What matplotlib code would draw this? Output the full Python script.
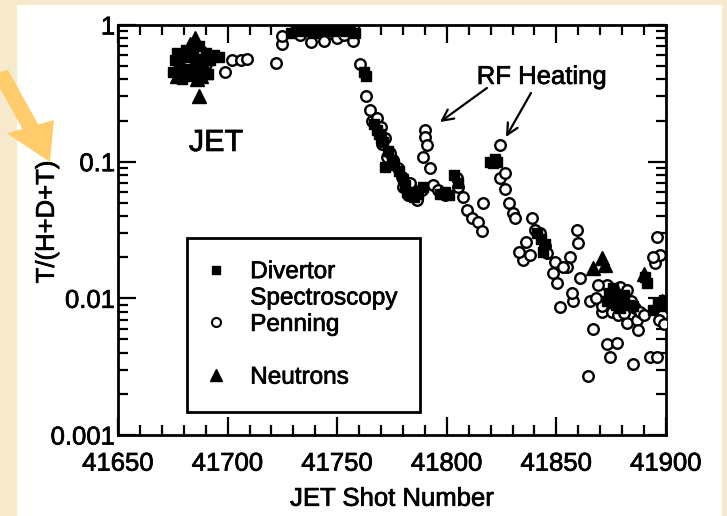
import matplotlib
matplotlib.use("Agg")
import matplotlib.pyplot as plt
import matplotlib.patheffects as pe
from matplotlib.ticker import MultipleLocator, LogLocator, FixedLocator, NullFormatter
from matplotlib.lines import Line2D
from matplotlib.patches import Rectangle, FancyArrow

plt.rcParams['font.family'] = ['Liberation Sans', 'DejaVu Sans']

# ---------------- data ----------------
div_shot = [41675, 41676, 41677, 41678, 41679, 41680, 41681, 41682, 41683, 41684,
            41685, 41686, 41687, 41688, 41689, 41690, 41691, 41692, 41694, 41696,
            41729, 41731, 41734, 41736, 41739, 41742, 41745, 41748, 41751, 41754,
            41756, 41758,
            41762, 41763, 41767, 41768, 41769, 41770, 41771, 41772, 41773, 41775,
            41776, 41778, 41780, 41781, 41782, 41783, 41785, 41786, 41787, 41789,
            41797, 41799, 41801, 41803.5, 41805,
            41819.7, 41821, 41822, 41823,
            41841, 41843, 41845, 41844,
            41874, 41876, 41878, 41880, 41877, 41879, 41881, 41883, 41873, 41885,
            41890.4, 41891.3, 41894, 41896.4, 41898, 41899]
div_val = [0.45, 0.55, 0.62, 0.50, 0.40, 0.58, 0.66, 0.48, 0.42, 0.60,
           0.52, 0.45, 0.70, 0.56, 0.50, 0.62, 0.44, 0.55, 0.60, 0.58,
           0.88, 0.92, 0.90, 0.93, 0.88, 0.92, 0.93, 0.90, 0.92, 0.90,
           0.93, 0.88,
           0.45, 0.42, 0.19, 0.17, 0.16, 0.15, 0.14, 0.092, 0.12, 0.10,
           0.095, 0.085, 0.075, 0.068, 0.060, 0.057, 0.055, 0.060, 0.058, 0.065,
           0.058, 0.060, 0.057, 0.080, 0.070,
           0.100, 0.098, 0.105, 0.100,
           0.030, 0.027, 0.025, 0.022,
           0.011, 0.012, 0.0105, 0.0095, 0.009, 0.0085, 0.0105, 0.009, 0.0095, 0.0088,
           0.0144, 0.013, 0.0082, 0.0093, 0.0088, 0.0098]

pen_shot = [41684, 41688, 41690, 41699, 41702, 41706, 41709, 41722, 41725, 41725,
            41733, 41738, 41741, 41744, 41747, 41750, 41753, 41757,
            41760.5, 41763, 41765, 41766, 41768, 41770, 41772, 41770.5, 41772.7, 41775.5,
            41777.7, 41779.6, 41780, 41782.3, 41784.6, 41788.7, 41786.4, 41774, 41783,
            41790, 41790, 41791, 41789, 41792.5, 41793.5, 41796, 41799, 41804.7, 41805,
            41807.4, 41809.2, 41811.5, 41814.2, 41816, 41816.5,
            41824.3, 41824.3, 41826.6, 41826.6, 41828.5, 41830, 41831,
            41838.9, 41840.2, 41842.5, 41844.8, 41845.7, 41834.8, 41838, 41849.4, 41856.2,
            41859.4, 41859.9, 41854.8, 41853, 41848.4, 41850.3, 41860.8, 41851.6, 41857.6,
            41857.1, 41865.3, 41870.8, 41875.4, 41882.2, 41886.8, 41887.2, 41866.7, 41873.1,
            41877.6, 41874.5, 41884.9, 41864.4, 41892.7, 41895.9,
            41873, 41876, 41879, 41882, 41884, 41886, 41878, 41881, 41888, 41890,
            41871, 41868, 41869,
            41895, 41897.3, 41896, 41894, 41898.2, 41897, 41899, 41836, 41833]
pen_val = [0.60, 0.65, 0.52, 0.45, 0.55, 0.55, 0.56, 0.53, 0.72, 0.83,
           0.85, 0.75, 0.90, 0.77, 0.88, 0.80, 0.85, 0.77,
           0.52, 0.30, 0.24, 0.20, 0.21, 0.18, 0.15, 0.135, 0.108, 0.103,
           0.090, 0.077, 0.065, 0.057, 0.062, 0.062, 0.0525, 0.115, 0.070,
           0.171, 0.152, 0.132, 0.108, 0.090, 0.068, 0.062, 0.057, 0.076, 0.065,
           0.055, 0.044, 0.039, 0.036, 0.031, 0.050,
           0.132, 0.076, 0.082, 0.063, 0.050, 0.042, 0.039,
           0.039, 0.0316, 0.030, 0.024, 0.0215, 0.019, 0.0208, 0.0185, 0.020,
           0.0316, 0.0254, 0.017, 0.017, 0.0154, 0.013, 0.0141, 0.0087, 0.0095,
           0.011, 0.0095, 0.008, 0.008, 0.0066, 0.007, 0.0059, 0.006, 0.0046,
           0.0047, 0.0037, 0.0033, 0.0027, 0.0037, 0.0037,
           0.0125, 0.0105, 0.0122, 0.0115, 0.0095, 0.0085, 0.0075, 0.0078, 0.008, 0.0075,
           0.0088, 0.010, 0.0125,
           0.018, 0.0208, 0.028, 0.020, 0.0076, 0.007, 0.0065, 0.026, 0.022]

neu_shot = [41677, 41680, 41683, 41685, 41686, 41688, 41690, 41687,
            41870.8, 41866.7, 41872.2, 41890, 41898, 41878]
neu_val = [0.42, 0.47, 0.72, 0.80, 0.40, 0.42, 0.45, 0.30,
           0.0198, 0.0167, 0.0176, 0.015, 0.0095, 0.011]

x_ticks = [41650, 41700, 41750, 41800, 41850, 41900]
y_ticks = [0.001, 0.01, 0.1, 1]
y_ticklabels = ['0.001', '0.01', '0.1', '1']

# ---------------- figure ----------------
W, H = 727, 516
fig = plt.figure(figsize=(W / 100, H / 100), dpi=100, facecolor='#f7e9cc')
# white page of the scanned figure
fig.patches.append(Rectangle((17 / W, 0), (722 - 17) / W, (H - 5) / H,
                             transform=fig.transFigure, facecolor='white',
                             edgecolor='none', zorder=-10))

ax = fig.add_axes([118 / W, 1 - 435 / H, (666 - 118) / W, (435 - 25) / H])
ax.set_zorder(2)
ax.set_facecolor('white')

ax.plot(pen_shot, pen_val, linestyle='none', marker='o', markersize=7.6,
        markerfacecolor='white', markeredgecolor='black', markeredgewidth=1.7, zorder=3)
ax.plot(div_shot, div_val, linestyle='none', marker='s', markersize=7,
        markerfacecolor='black', markeredgecolor='black', zorder=4)
ax.plot(neu_shot, neu_val, linestyle='none', marker='^', markersize=9.5,
        markerfacecolor='black', markeredgecolor='black', zorder=4)

ax.set_yscale('log')
ax.set_xlim(41650, 41900)
ax.set_ylim(0.001, 1)

ax.xaxis.set_major_locator(FixedLocator(x_ticks))
ax.xaxis.set_minor_locator(MultipleLocator(10))
ax.set_xticklabels([str(t) for t in x_ticks])
ax.yaxis.set_major_locator(FixedLocator(y_ticks))
ax.set_yticklabels(y_ticklabels)
ax.yaxis.set_minor_locator(LogLocator(base=10, subs=range(2, 10)))
ax.yaxis.set_minor_formatter(NullFormatter())

ax.tick_params(which='both', direction='in', top=True, right=True, color='black')
ax.tick_params(which='major', length=13, width=1.6)
ax.tick_params(which='minor', length=7, width=1.6)
ax.tick_params(axis='x', which='major', labelsize=18.5, pad=12)
ax.tick_params(axis='y', which='major', labelsize=18.5, pad=2)
for s in ax.spines.values():
    s.set_linewidth(2)

ax.set_xlabel('JET Shot Number', fontsize=18.5, labelpad=8)
ax.set_ylabel('T/(H+D+T)', fontsize=18.5)
ax.yaxis.set_label_coords(-0.108, 0.52)

ax.text(41694.7, 0.137, 'JET', fontsize=22, ha='center', va='center')
ax.text(41843.4, 0.417, 'RF Heating', fontsize=18.5, ha='center', va='center')
ax.annotate('', xy=(41796.9, 0.195), xytext=(41818.3, 0.346),
            arrowprops=dict(arrowstyle='->', lw=1.6, color='black',
                            mutation_scale=20, shrinkA=0, shrinkB=0))
ax.annotate('', xy=(41827.0, 0.1516), xytext=(41838.4, 0.318),
            arrowprops=dict(arrowstyle='->', lw=1.6, color='black',
                            mutation_scale=20, shrinkA=0, shrinkB=0))

# legend
handles = [
    Line2D([], [], linestyle='none', marker='s', markersize=6, color='black'),
    Line2D([], [], linestyle='none', marker=None),
    Line2D([], [], linestyle='none', marker='o', markersize=6.5,
           markerfacecolor='white', markeredgecolor='black', markeredgewidth=1.5),
    Line2D([], [], linestyle='none', marker=None),
    Line2D([], [], linestyle='none', marker='^', markersize=9, color='black'),
]
labels = ['Divertor', 'Spectroscopy', 'Penning', ' ', 'Neutrons']
leg = ax.legend(handles, labels, loc='upper left',
                bbox_to_anchor=((187 - 118) / 548, (435 - 238) / 410),
                fontsize=17.5, frameon=True, fancybox=False, framealpha=1,
                edgecolor='black', borderpad=0.95, labelspacing=0.18,
                handlelength=0.5, handletextpad=1.15, borderaxespad=0)
leg.get_frame().set_linewidth(2)

# slightly heavier text, like the scanned original
stroke = [pe.withStroke(linewidth=0.5, foreground='black')]
for t in (ax.get_xticklabels() + ax.get_yticklabels() + leg.get_texts()
          + [ax.xaxis.label, ax.yaxis.label] + ax.texts):
    t.set_path_effects(stroke)

# orange pointer arrow on the page
fig.patches.append(FancyArrow(0 / W, 1 - 72 / H, 50 / W, -(162 - 72) / H,
                              width=12 / H, head_width=36 / H, head_length=38 / H,
                              length_includes_head=True, transform=fig.transFigure,
                              facecolor='#ffcb6b', edgecolor='none', zorder=5))

fig.savefig('out.png', dpi=100, facecolor=fig.get_facecolor())
